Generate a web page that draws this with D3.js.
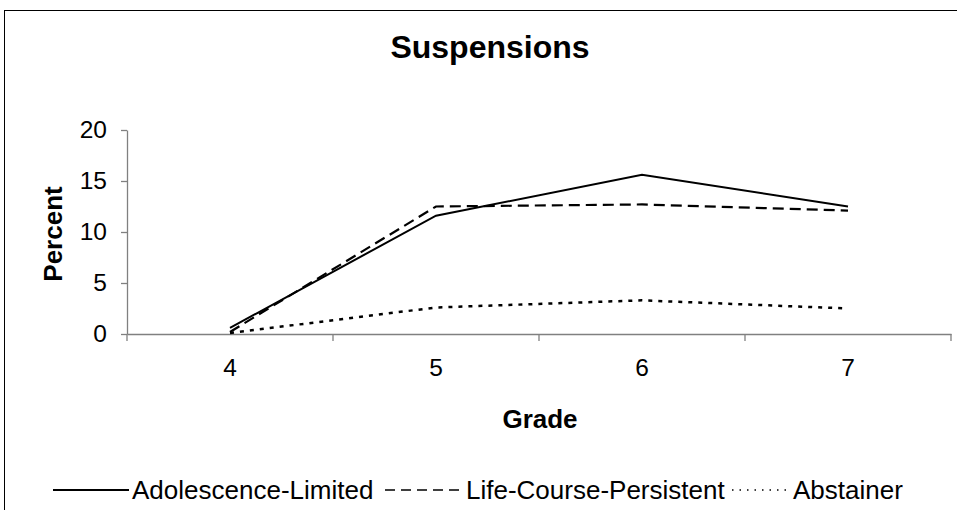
<!DOCTYPE html>
<html><head><meta charset="utf-8">
<script src="https://cdn.jsdelivr.net/npm/d3@7"></script>
<style>body{margin:0;background:#fff}svg{display:block;font-family:"Liberation Sans",Arial,sans-serif}</style>
</head><body><svg id="c" width="957" height="510"></svg>
<script>
const grades = ["4","5","6","7"];
const adolescenceLimited = [0.6, 11.6, 15.6, 12.5];
const lifeCoursePersistent = [0.2, 12.5, 12.7, 12.1];
const abstainer = [0.1, 2.6, 3.3, 2.5];
const yTicks = [0, 5, 10, 15, 20];
const seriesNames = ["Adolescence-Limited", "Life-Course-Persistent", "Abstainer"];

const svg = d3.select("#c");
const W = 957, H = 510;
const m = {l:127, r:951, t:130, b:334};

svg.append("rect").attr("x",4.5).attr("y",10.5).attr("width",W+10).attr("height",H+10)
  .attr("fill","#fff").attr("stroke","#000").attr("stroke-width",1);

const x = d3.scaleBand().domain(grades).range([m.l, m.r]);
const y = d3.scaleLinear().domain([0,20]).range([m.b, m.t]);

svg.append("text").attr("x",490).attr("y",58).attr("text-anchor","middle")
  .attr("font-size",32).attr("font-weight","bold").text("Suspensions");

// y axis
const ya = svg.append("g").attr("transform",`translate(${m.l},0)`)
  .call(d3.axisLeft(y).tickValues(yTicks).tickSize(6).tickSizeOuter(0).tickPadding(14));
ya.selectAll("path,line").attr("stroke","#808080").attr("stroke-width",1.3);
ya.selectAll("text").attr("font-size",24.5).attr("fill","#000").attr("font-family","Liberation Sans, Arial, sans-serif");

// x axis
const xa = svg.append("g").attr("transform",`translate(0,${m.b})`)
  .call(d3.axisBottom(x).tickSize(0).tickPadding(25));
xa.select("path").attr("stroke","#808080").attr("stroke-width",1.3);
xa.selectAll("text").attr("font-size",24.5).attr("fill","#000").attr("font-family","Liberation Sans, Arial, sans-serif");
const bounds = grades.map(g => x(g)).concat([x(grades[grades.length-1]) + x.bandwidth()]);
xa.selectAll("line.b").data(bounds).join("line").attr("class","b")
  .attr("x1",d=>d).attr("x2",d=>d).attr("y1",0).attr("y2",7)
  .attr("stroke","#808080").attr("stroke-width",1.3);

svg.append("text").attr("x",540).attr("y",428).attr("text-anchor","middle")
  .attr("font-size",26).attr("font-weight","bold").text("Grade");
svg.append("text").attr("transform","translate(62,234) rotate(-90)").attr("text-anchor","middle")
  .attr("font-size",26).attr("font-weight","bold").text("Percent");

const line = d3.line().x((d,i)=>x(grades[i]) + x.bandwidth()/2).y(d=>y(d));
const styles = [
  {data: adolescenceLimited, dash: null, w: 2},
  {data: lifeCoursePersistent, dash: "11,6", w: 2.2},
  {data: abstainer, dash: "4,6", w: 2.5}
];
styles.forEach(s => {
  svg.append("path").datum(s.data).attr("d", line).attr("fill","none")
    .attr("stroke","#000").attr("stroke-width",s.w).attr("stroke-dasharray",s.dash);
});

// legend
const legend = [
  {x1:53, x2:129, tx:132, dash:null, w:2},
  {x1:385, x2:463, tx:466, dash:"10,6", w:1.6},
  {x1:732, x2:791, tx:793, dash:"1.5,6", w:1.5}
];
legend.forEach((l,i) => {
  svg.append("line").attr("x1",l.x1).attr("x2",l.x2).attr("y1",490).attr("y2",490)
    .attr("stroke","#000").attr("stroke-width",l.w).attr("stroke-dasharray",l.dash);
  svg.append("text").attr("x",l.tx).attr("y",498.5).attr("font-size",26).text(seriesNames[i]);
});
</script></body></html>
